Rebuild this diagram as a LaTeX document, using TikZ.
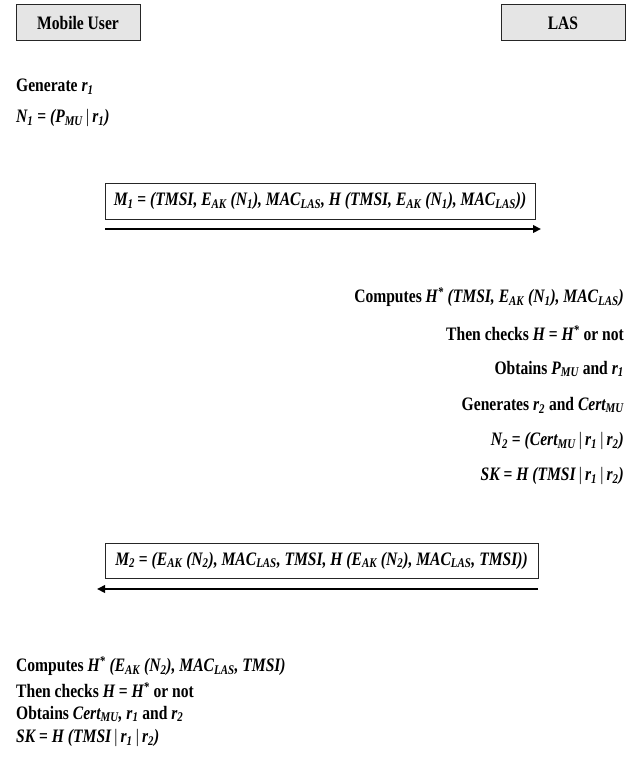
\documentclass[tikz,border=0pt]{standalone}
\usepackage{fontspec}
\setmainfont{Liberation Serif}[FakeStretch=0.82]
\usetikzlibrary{arrows.meta}
\newcommand\fm[1]{{\itshape #1}}
\newcommand\sub[1]{\textsubscript{\itshape #1}}
\newcommand\st{\textsuperscript{*}}
\newcommand\br{{\upshape\mdseries\,|\,}}
\newcommand\eq{{\upshape\ =\ }}
\tikzset{
  actor/.style={draw=black!85, line width=1pt, fill=black!10, minimum width=124pt, minimum height=36pt, inner sep=0pt, font=\fontsize{19}{22}\selectfont\bfseries},
  txt/.style={inner sep=0pt, font=\fontsize{19}{22}\selectfont\bfseries},
  msg/.style={draw=black!85, line width=1pt, fill=white, inner sep=0pt, font=\fontsize{19}{22}\selectfont\bfseries},
  arr/.style={line width=2.6pt, -{Triangle[length=8pt,width=7.5pt]}}
}
\begin{document}
\begin{tikzpicture}[x=1pt,y=-1pt]
\useasboundingbox[fill=white] (0,0) rectangle (638,773);
\node[actor] (mu) at (78,23) {Mobile User};
\node[actor] (las) at (563,23) {LAS};
\node[txt, anchor=west] (g1) at (16,87) {Generate \fm{r\sub{1}}};
\node[txt, anchor=west] (n1) at (16,118) {\fm{N\sub{1}\eq(P\sub{MU}\br r\sub{1})}};
\node[msg, minimum width=430pt, minimum height=36pt] (m1) at (320,201) {\fm{M\sub{1}\eq(TMSI, E\sub{AK} (N\sub{1}), MAC\sub{LAS}, H (TMSI, E\sub{AK} (N\sub{1}), MAC\sub{LAS}))}};
\coordinate (a1s) at (105,229);
\coordinate (a1e) at (541,229);
\draw[arr] (a1s) -- (a1e);
\node[txt, anchor=east] (r1) at (624,297) {Computes \fm{H\st\ (TMSI, E\sub{AK} (N\sub{1}), MAC\sub{LAS})}};
\node[txt, anchor=east] (r2) at (624,333) {Then checks \fm{H\eq H\st} or not};
\node[txt, anchor=east] (r3) at (624,369) {Obtains \fm{P\sub{MU}} and \fm{r\sub{1}}};
\node[txt, anchor=east] (r4) at (624,405) {Generates \fm{r\sub{2}} and \fm{Cert\sub{MU}}};
\node[txt, anchor=east] (r5) at (624,441) {\fm{N\sub{2}\eq(Cert\sub{MU}\br r\sub{1}\br r\sub{2})}};
\node[txt, anchor=east] (r6) at (624,476) {\fm{SK\eq H (TMSI\br r\sub{1}\br r\sub{2})}};
\node[msg, minimum width=433pt, minimum height=35pt] (m2) at (321.5,560.5) {\fm{M\sub{2}\eq(E\sub{AK} (N\sub{2}), MAC\sub{LAS}, TMSI, H (E\sub{AK} (N\sub{2}), MAC\sub{LAS}, TMSI))}};
\coordinate (a2s) at (538,589);
\coordinate (a2e) at (97,589);
\draw[arr] (a2s) -- (a2e);
\node[txt, anchor=west] (b1) at (16,666) {Computes \fm{H\st\ (E\sub{AK} (N\sub{2}), MAC\sub{LAS}, TMSI)}};
\node[txt, anchor=west] (b2) at (16,690) {Then checks \fm{H\eq H\st} or not};
\node[txt, anchor=west] (b3) at (16,714) {Obtains \fm{Cert\sub{MU}, r\sub{1}} and \fm{r\sub{2}}};
\node[txt, anchor=west] (b4) at (16,738) {\fm{SK\eq H (TMSI\br r\sub{1}\br r\sub{2})}};
\end{tikzpicture}
\end{document}
